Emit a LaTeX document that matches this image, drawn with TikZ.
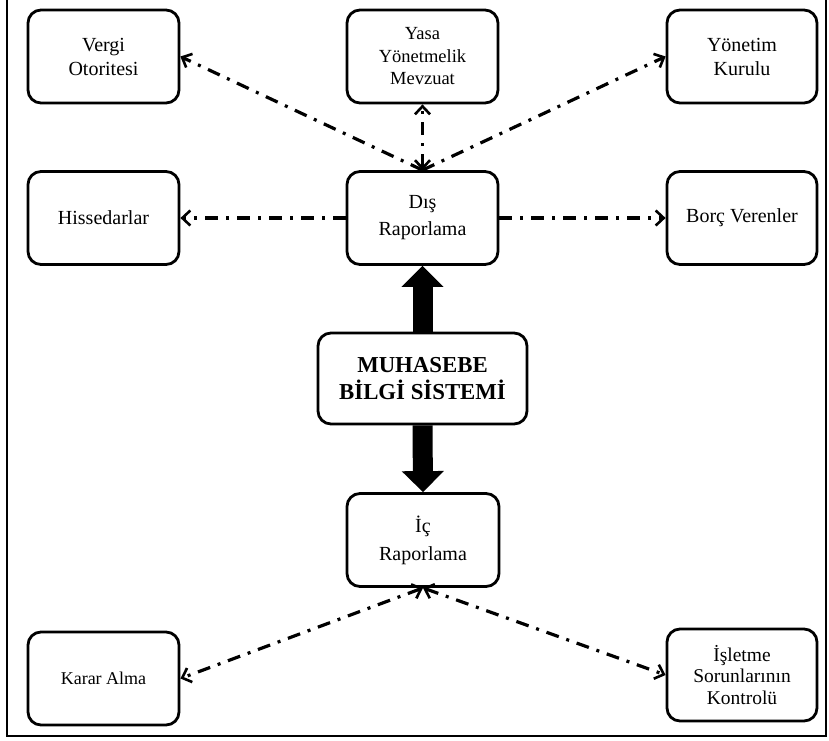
\documentclass[tikz,border=0pt]{standalone}
\usepackage{fontspec}
\setmainfont{Liberation Serif}
\usetikzlibrary{arrows.meta}
\tikzset{
  box/.style={draw=black, line width=2.8pt, rounded corners=13pt, fill=white,
    minimum width=151pt, minimum height=93pt, inner sep=0pt, align=center,
    font=\fontsize{20}{24}\selectfont},
  tip/.tip={Straight Barb[length=8pt,width=15pt,line width=2.6pt]},
  flow/.style={line width=3.2pt, dash pattern=on 13pt off 8pt on 3pt off 8pt, -tip},
  flowboth/.style={flow, tip-tip},
  bigarrow/.style={line width=20pt, -{Triangle[length=21pt,width=41pt]}}
}
\begin{document}
\begin{tikzpicture}[x=1pt,y=-1pt]
  \useasboundingbox (0,0) rectangle (829,740);
  % outer frame (left, bottom, right)
  \draw[line width=2.4pt] (7,-5) -- (7,736) -- (826,736) -- (826,-5);

  % top row
  \node[box] (vergi) at (103.5,56.5) {Vergi\\Otoritesi};
  \node[box, font=\fontsize{18.5}{22.5}\selectfont] (yasa) at (422.5,56.5) {Yasa\\Yönetmelik\\Mevzuat};
  \node[box, minimum width=150pt] (yonetim) at (742,56.5) {Yönetim\\Kurulu};

  % second row
  \node[box] (hisse) at (103.5,218) {Hissedarlar};
  \node[box, font=\fontsize{20}{27}\selectfont] (dis) at (422.5,218) {Dış\\Raporlama};
  \node[box, minimum width=150pt] (borc) at (742,218) {Borç Verenler};

  % centre
  \node[box, minimum width=209pt, minimum height=91pt,
        font=\fontsize{22.8}{27}\selectfont\bfseries] (mbs) at (422.5,378.5)
        {MUHASEBE\\BİLGİ SİSTEMİ};

  % internal reporting
  \node[box, minimum width=152pt, font=\fontsize{20}{28}\selectfont] (ic) at (423,540) {İç\\Raporlama};
  \node[box, font=\fontsize{18}{22}\selectfont] (karar) at (103.5,678.5) {Karar Alma};
  \node[box, minimum width=150pt, minimum height=92pt,
        font=\fontsize{19.5}{21.5}\selectfont] (isletme) at (742,675)
        {İşletme\\Sorunlarının\\Kontrolü};

  % thick arrows from the information system
  \draw[bigarrow] (mbs.north) -- (dis.south);
  \draw[bigarrow] (mbs.south) -- (ic.north);

  % external reporting links
  \draw[flow] (dis.north) -- (vergi.east);
  \draw[flowboth] (dis.north) -- (yasa.south);
  \draw[flow] (dis.north) -- (yonetim.west);
  \draw[flow] (dis.west) -- (hisse.east);
  \draw[flow] (dis.east) -- (borc.west);

  % internal reporting links
  \draw[flowboth] (ic.south) -- (karar.east);
  \draw[flowboth] (ic.south) -- (isletme.west);
\end{tikzpicture}
\end{document}
